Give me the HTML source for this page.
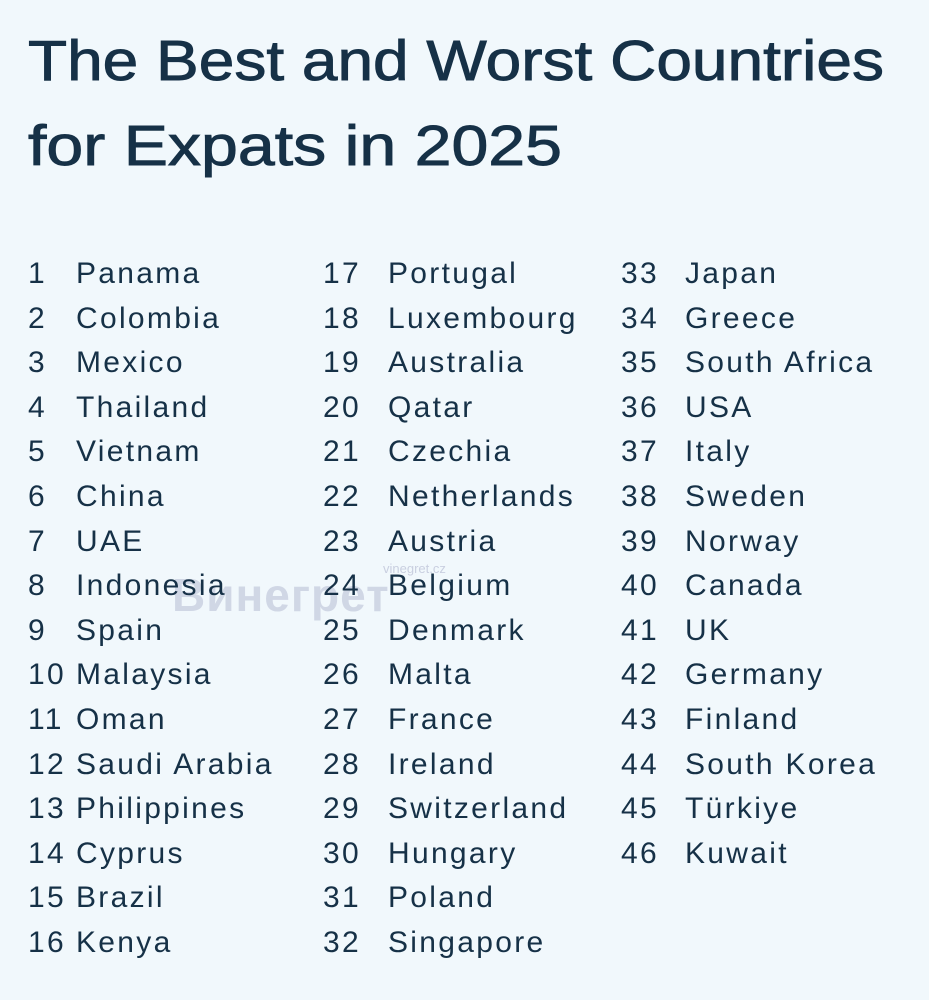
<!DOCTYPE html>
<html><head><meta charset="utf-8"><style>
body{margin:0;width:929px;height:1000px;background:#f1f8fc;overflow:hidden;position:relative;font-family:"Liberation Sans",sans-serif;color:#163147}
svg{position:absolute;left:0;top:0}
.r{position:absolute;font-size:30px;letter-spacing:2.3px;line-height:1;white-space:nowrap}
.wm{position:absolute;left:172px;top:568px;font-size:46px;font-weight:bold;color:#c9cfe0;opacity:.8;letter-spacing:1px}
.wm2{position:absolute;left:383px;top:561px;font-size:13px;color:#c9cfe0}
</style></head><body>
<div class="wm">Винегрет</div><div class="wm2">vinegret.cz</div>
<svg width="929" height="200">
<text x="28" y="80" font-size="57" fill="#163147" stroke="#163147" stroke-width="0.9" textLength="856" lengthAdjust="spacingAndGlyphs" font-family="Liberation Sans">The Best and Worst Countries</text>
<text x="28" y="165" font-size="57" fill="#163147" stroke="#163147" stroke-width="0.9" textLength="534" lengthAdjust="spacingAndGlyphs" font-family="Liberation Sans">for Expats in 2025</text>
</svg>
<div id="c"></div>
<script>
var d=["Panama","Colombia","Mexico","Thailand","Vietnam","China","UAE","Indonesia","Spain","Malaysia","Oman","Saudi Arabia","Philippines","Cyprus","Brazil","Kenya","Portugal","Luxembourg","Australia","Qatar","Czechia","Netherlands","Austria","Belgium","Denmark","Malta","France","Ireland","Switzerland","Hungary","Poland","Singapore","Japan","Greece","South Africa","USA","Italy","Sweden","Norway","Canada","UK","Germany","Finland","South Korea","Türkiye","Kuwait"];
var nx=[28,323,621],tx=[76,388,685],h="";
for(var i=0;i<d.length;i++){var c=Math.floor(i/16),r=i%16,y=259+r*44.6;
h+='<div class="r" style="left:'+nx[c]+'px;top:'+y+'px">'+(i+1)+'</div><div class="r" style="left:'+tx[c]+'px;top:'+y+'px">'+d[i]+'</div>';}
document.getElementById('c').innerHTML=h;
</script>
</body></html>
